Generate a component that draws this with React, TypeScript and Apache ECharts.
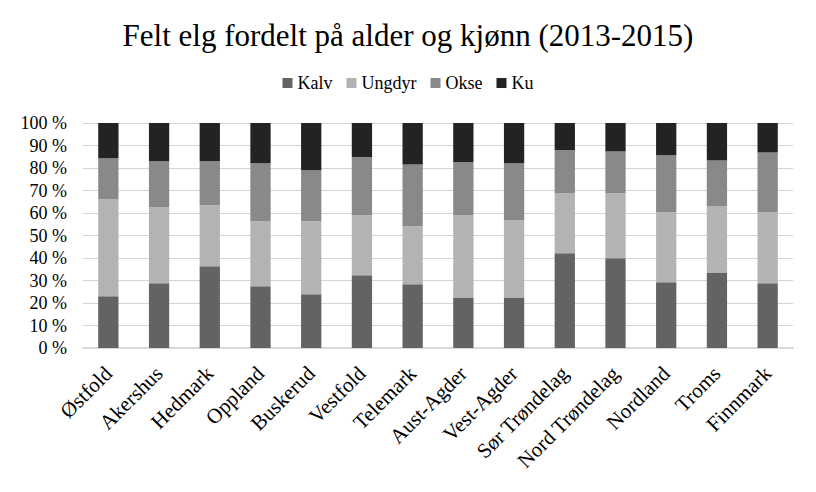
import React, { useEffect, useRef } from "react";
import * as echarts from "echarts";

const categories = [
  "Østfold", "Akershus", "Hedmark", "Oppland", "Buskerud", "Vestfold", "Telemark",
  "Aust-Agder", "Vest-Agder", "Sør Trøndelag", "Nord Trøndelag", "Nordland", "Troms", "Finnmark",
];
const kalv = [23.0, 28.8, 36.3, 27.4, 23.9, 32.3, 28.3, 22.5, 22.5, 42.1, 39.9, 29.2, 33.6, 28.8];
const ungdyr = [43.1, 33.8, 27.2, 28.9, 32.4, 26.7, 25.8, 36.5, 34.3, 26.7, 28.9, 31.1, 29.3, 31.5];
const okse = [18.2, 20.4, 19.5, 25.8, 22.7, 25.8, 27.5, 23.5, 25.3, 19.1, 18.6, 25.3, 20.5, 26.6];
const ku = [15.7, 17.0, 17.0, 17.9, 21.0, 15.2, 18.4, 17.5, 17.9, 12.1, 12.6, 14.4, 16.6, 13.1];

const seriesNames = ["Kalv", "Ungdyr", "Okse", "Ku"];
const seriesData = [kalv, ungdyr, okse, ku];
const seriesColors = ["#636363", "#b3b3b3", "#898989", "#232323"];

const FONT = "'Liberation Serif', serif";

export default function App() {
  const ref = useRef<HTMLDivElement>(null);
  useEffect(() => {
    document.body.style.margin = "0";
    if (!ref.current) return;
    const chart = echarts.init(ref.current, undefined, { renderer: "svg" });
    chart.setOption({
      animation: false,
      backgroundColor: "#ffffff",
      textStyle: { fontFamily: FONT },
      title: {
        text: "Felt elg fordelt på alder og kjønn (2013-2015)",
        left: "center",
        top: 15,
        textStyle: { fontFamily: FONT, fontSize: 31, fontWeight: "normal", color: "#000" },
      },
      legend: {
        top: 74,
        left: "center",
        padding: 0,
        itemWidth: 10,
        itemHeight: 10,
        itemGap: 14,
        icon: "rect",
        textStyle: { fontFamily: FONT, fontSize: 18, color: "#000", padding: [0, 0, 0, 0] },
        data: seriesNames,
      },
      grid: { left: 83, right: 23, top: 123, bottom: 144 },
      xAxis: {
        type: "category",
        data: categories,
        axisLine: { lineStyle: { color: "#d9d9d9", width: 2 } },
        axisTick: { show: false },
        axisLabel: {
          rotate: 45,
          interval: 0,
          margin: 22,
          fontFamily: FONT,
          fontSize: 21,
          color: "#000",
        },
      },
      yAxis: {
        type: "value",
        min: 0,
        max: 100,
        interval: 10,
        axisLine: { show: false },
        axisTick: { show: false },
        splitLine: { lineStyle: { color: "#d4d4d4", width: 1 } },
        axisLabel: {
          formatter: "{value} %",
          margin: 16,
          fontFamily: FONT,
          fontSize: 18,
          color: "#000",
        },
      },
      series: seriesNames.map((name, i) => ({
        name,
        type: "bar",
        stack: "total",
        barWidth: "40%",
        data: seriesData[i],
        itemStyle: { color: seriesColors[i] },
      })),
    });
    return () => chart.dispose();
  }, []);
  return <div ref={ref} style={{ width: 816, height: 492 }} />;
}
